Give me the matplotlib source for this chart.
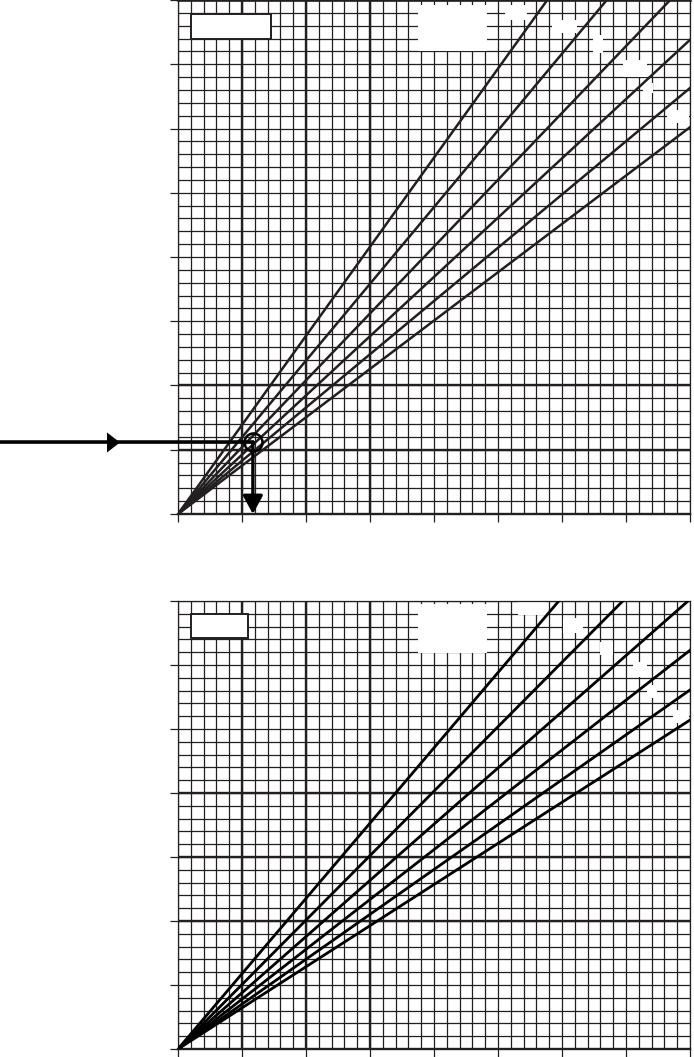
import numpy as np
import matplotlib
matplotlib.use('Agg')
import matplotlib.pyplot as plt
import matplotlib.transforms as mtransforms
from matplotlib.patches import Rectangle

ink = '#231f20'

# upper chart: where each of the six curves leaves the grid (origin at 0,0)
top_end_x = [5.77, 6.70, 7.69, 8.00, 8.00, 8.00]
top_end_y = [8.00, 8.00, 8.00, 7.38, 6.63, 6.02]

# lower chart
bot_end_x = [5.95, 6.95, 7.97, 8.00, 8.00, 8.00]
bot_end_y = [7.00, 7.00, 7.00, 6.23, 5.61, 5.14]

# emphasised grid lines
top_thick_x = [1, 2, 3]
top_thick_y = [1, 2]
bot_thick_x = [1, 2, 3]
bot_thick_y = [2, 3, 4]

# reading example on upper chart
read_x, read_y = 1.17, 1.12

# blanked label areas (x0, x1, y0, y1)
top_blank = [(3.75, 4.83, 7.20, 7.92), (5.11, 5.45, 7.69, 7.92), (5.84, 6.23, 7.49, 7.69),
             (6.48, 6.64, 7.18, 7.46), (6.95, 7.33, 6.80, 7.07), (7.27, 7.42, 6.55, 6.71),
             (7.64, 7.98, 6.09, 6.29)]
bot_blank = [(3.75, 4.83, 6.19, 6.95), (5.31, 5.77, 6.78, 6.98), (6.02, 6.33, 6.50, 6.73),
             (6.59, 6.80, 6.16, 6.36), (7.11, 7.33, 5.81, 6.05), (7.33, 7.48, 5.48, 5.69),
             (7.73, 7.98, 5.09, 5.30)]
top_box = (0.20, 1.45, 7.39, 7.78)
bot_box = (0.20, 1.10, 6.42, 6.80)


def grid_panel(ax, ymax, thick_x, thick_y, blanks, box):
  ax.set_xlim(0, 8)
  ax.set_ylim(0, ymax)
  ax.set_xticks(np.arange(0, 8.01, 1))
  ax.set_xticks(np.arange(0, 8.01, 0.2), minor=True)
  ax.set_yticks(np.arange(0, ymax + 0.01, 1))
  ax.set_yticks(np.arange(0, ymax + 0.01, 0.2), minor=True)
  ax.set_axisbelow(True)
  ax.grid(which='both', color=ink, lw=0.9)
  ax.tick_params(which='major', direction='out', length=6, width=0.9, color=ink,
                 labelleft=False, labelbottom=False)
  ax.tick_params(which='minor', length=0)
  for v in thick_x:
    ax.axvline(v, color=ink, lw=1.7, zorder=0.8)
  for h in thick_y:
    ax.axhline(h, color=ink, lw=1.7, zorder=0.8)
  for x0, x1, y0, y1 in blanks:
    ax.add_patch(Rectangle((x0, y0), x1 - x0, y1 - y0, fc='white', ec='none', zorder=1))
  x0, x1, y0, y1 = box
  ax.add_patch(Rectangle((x0, y0), x1 - x0, y1 - y0, fc='white', ec=ink, lw=1.4, zorder=2))
  for s in ax.spines.values():
    s.set_color(ink)
    s.set_linewidth(0.9)
  ax.spines['bottom'].set_linewidth(1.7)


fig = plt.figure(figsize=(6.94, 10.57), dpi=100)
ax1 = fig.add_axes([178/694, (1057-514)/1057, 512/694, 514/1057])
ax2 = fig.add_axes([178/694, (1057-1049)/1057, 512/694, 448/1057])

grid_panel(ax1, 8, top_thick_x, top_thick_y, top_blank, top_box)
ax1.spines['top'].set_linewidth(1.9)
grid_panel(ax2, 7, bot_thick_x, bot_thick_y, bot_blank, bot_box)

for ex, ey in zip(top_end_x, top_end_y):
  ax1.plot([0, ex], [0, ey], color=ink, lw=1.8, zorder=3)
for ex, ey in zip(bot_end_x, bot_end_y):
  ax2.plot([0, ex], [0, ey], color='black', lw=2.0, zorder=3)

# how-to-read arrows
blend = mtransforms.blended_transform_factory(fig.transFigure, ax1.transData)
ax1.annotate('', xy=(read_x, read_y), xytext=(0, read_y), textcoords=blend,
             arrowprops=dict(arrowstyle='-', lw=2.6, color='black', shrinkA=0, shrinkB=0),
             annotation_clip=False, zorder=4)
ax1.plot(0.163, read_y, transform=blend, marker=[(-0.65, 1), (0.65, 0), (-0.65, -1)],
         ms=14.4, color='black', mew=0, clip_on=False, zorder=5)
ax1.annotate('', xy=(read_x, 0), xytext=(read_x, read_y),
             arrowprops=dict(arrowstyle='-|>,head_length=1.1,head_width=0.6', mutation_scale=10,
                             lw=2.4, color='black', shrinkA=0, shrinkB=0), zorder=4)
ax1.plot(read_x, read_y, 'o', ms=13, mfc='none', mec='black', mew=1.8, zorder=5)

fig.savefig('out.png', dpi=100)
